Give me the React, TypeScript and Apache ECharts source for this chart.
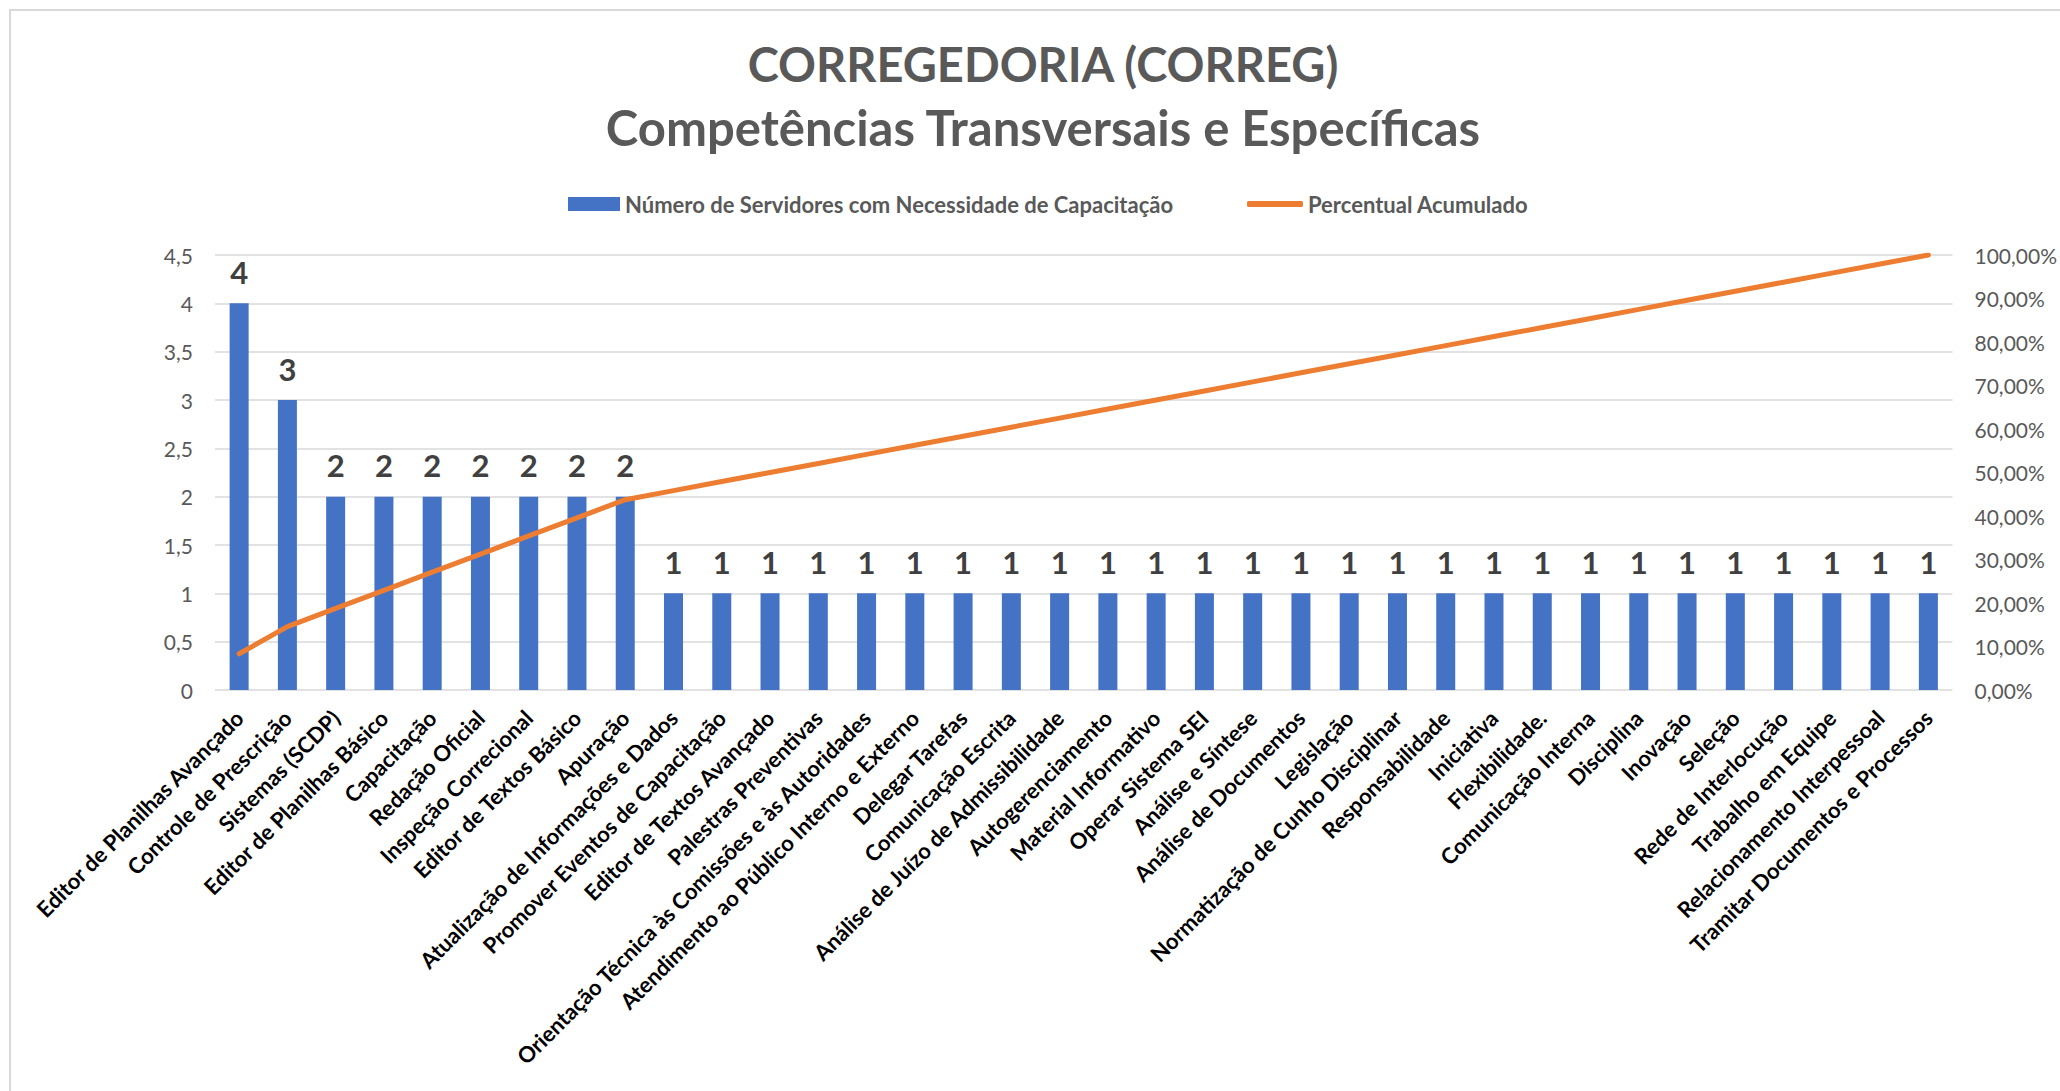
import React, { useEffect, useRef } from "react";
import * as echarts from "echarts";

const categories: string[] = [
  "Editor de Planilhas Avançado",
  "Controle de Prescrição",
  "Sistemas (SCDP)",
  "Editor de Planilhas Básico",
  "Capacitação",
  "Redação Oficial",
  "Inspeção Correcional",
  "Editor de Textos Básico",
  "Apuração",
  "Atualização de Informações e Dados",
  "Promover Eventos de Capacitação",
  "Editor de Textos Avançado",
  "Palestras Preventivas",
  "Orientação Técnica às Comissões e às Autoridades",
  "Atendimento ao Público Interno e Externo",
  "Delegar Tarefas",
  "Comunicação Escrita",
  "Análise de Juízo de Admissibilidade",
  "Autogerenciamento",
  "Material Informativo",
  "Operar Sistema SEI",
  "Análise e Síntese",
  "Análise de Documentos",
  "Legislação",
  "Normatização de Cunho Disciplinar",
  "Responsabilidade",
  "Iniciativa",
  "Flexibilidade.",
  "Comunicação Interna",
  "Disciplina",
  "Inovação",
  "Seleção",
  "Rede de Interlocução",
  "Trabalho em Equipe",
  "Relacionamento Interpessoal",
  "Tramitar Documentos e Processos",
];

const servidores: number[] = [
  4, 3, 2, 2, 2, 2, 2, 2, 2, 1, 1, 1, 1, 1, 1, 1, 1, 1, 1, 1, 1, 1, 1, 1, 1, 1,
  1, 1, 1, 1, 1, 1, 1, 1, 1, 1,
];

const percentualAcumulado: number[] = [
  8.33, 14.58, 18.75, 22.92, 27.08, 31.25, 35.42, 39.58, 43.75, 45.83, 47.92,
  50.0, 52.08, 54.17, 56.25, 58.33, 60.42, 62.5, 64.58, 66.67, 68.75, 70.83,
  72.92, 75.0, 77.08, 79.17, 81.25, 83.33, 85.42, 87.5, 89.58, 91.67, 93.75,
  95.83, 97.92, 100.0,
];

const titleLines: string[] = [
  "CORREGEDORIA (CORREG)",
  "Competências Transversais e Específicas",
];

const seriesNames: string[] = [
  "Número de Servidores com Necessidade de Capacitação",
  "Percentual Acumulado",
];

const FONT = "Lato";

export default function App() {
  const ref = useRef<HTMLDivElement>(null);

  useEffect(() => {
    document.body.style.margin = "0";
    if (!ref.current) return;
    const chart = echarts.init(ref.current, undefined, { renderer: "svg" });
    chart.setOption({
      animation: false,
      backgroundColor: "#ffffff",
      textStyle: { fontFamily: FONT },
      graphic: [
        {
          type: "rect",
          shape: { x: 10, y: 10, width: 2100, height: 1100 },
          style: { fill: "none", stroke: "#d9d9d9", lineWidth: 2 },
          silent: true,
        },
        {
          type: "text",
          x: 1043,
          y: 64,
          style: {
            text: titleLines[0],
            fontFamily: FONT,
            fontSize: 47,
            fontWeight: "bold",
            fill: "#595959",
            align: "center",
            verticalAlign: "middle",
          },
        },
        {
          type: "text",
          x: 1043,
          y: 127,
          style: {
            text: titleLines[1],
            fontFamily: FONT,
            fontSize: 49,
            fontWeight: "bold",
            fill: "#595959",
            align: "center",
            verticalAlign: "middle",
          },
        },
      ],
      legend: [
        {
          data: [seriesNames[0]],
          left: 563,
          top: 188,
          itemWidth: 52,
          itemHeight: 14,
          icon: "rect",
          textStyle: {
            fontFamily: FONT,
            fontSize: 22,
            fontWeight: "bold",
            color: "#595959",
          },
        },
        {
          data: [seriesNames[1]],
          left: 1242,
          top: 188,
          itemWidth: 56,
          itemHeight: 6,
          icon: "roundRect",
          textStyle: {
            fontFamily: FONT,
            fontSize: 22,
            fontWeight: "bold",
            color: "#595959",
          },
        },
      ],
      grid: { left: 215, right: 107, top: 255, bottom: 401, containLabel: false },
      xAxis: {
        type: "category",
        data: categories,
        axisLine: { show: false },
        axisTick: { show: false },
        axisLabel: {
          interval: 0,
          rotate: 45,
          margin: 24,
          fontFamily: FONT,
          fontSize: 22,
          fontWeight: "bold",
          color: "#000000",
        },
      },
      yAxis: [
        {
          type: "value",
          min: 0,
          max: 4.5,
          interval: 0.5,
          axisLine: { show: false },
          axisTick: { show: false },
          splitLine: { lineStyle: { color: "#d9d9d9", width: 1.5 } },
          axisLabel: {
            margin: 22,
            fontFamily: FONT,
            fontSize: 21,
            color: "#595959",
            formatter: (v: number) => String(v).replace(".", ","),
          },
        },
        {
          type: "value",
          min: 0,
          max: 1,
          interval: 0.1,
          axisLine: { show: false },
          axisTick: { show: false },
          splitLine: { show: false },
          axisLabel: {
            margin: 22,
            fontFamily: FONT,
            fontSize: 21,
            color: "#595959",
            formatter: (v: number) => (v * 100).toFixed(2).replace(".", ",") + "%",
          },
        },
      ],
      series: [
        {
          name: seriesNames[0],
          type: "bar",
          data: servidores,
          barWidth: 19,
          itemStyle: { color: "#4472C4" },
          label: {
            show: true,
            position: "top",
            distance: 16,
            fontFamily: FONT,
            fontSize: 31,
            fontWeight: "bold",
            color: "#404040",
          },
          z: 2,
        },
        {
          name: seriesNames[1],
          type: "line",
          yAxisIndex: 1,
          data: percentualAcumulado.map((p) => p / 100),
          symbol: "none",
          itemStyle: { color: "#ED7D31" },
          lineStyle: { color: "#ED7D31", width: 5, cap: "round", join: "round" },
          z: 3,
        },
      ],
    });
    return () => chart.dispose();
  }, []);

  return <div ref={ref} style={{ width: 2060, height: 1091 }} />;
}
